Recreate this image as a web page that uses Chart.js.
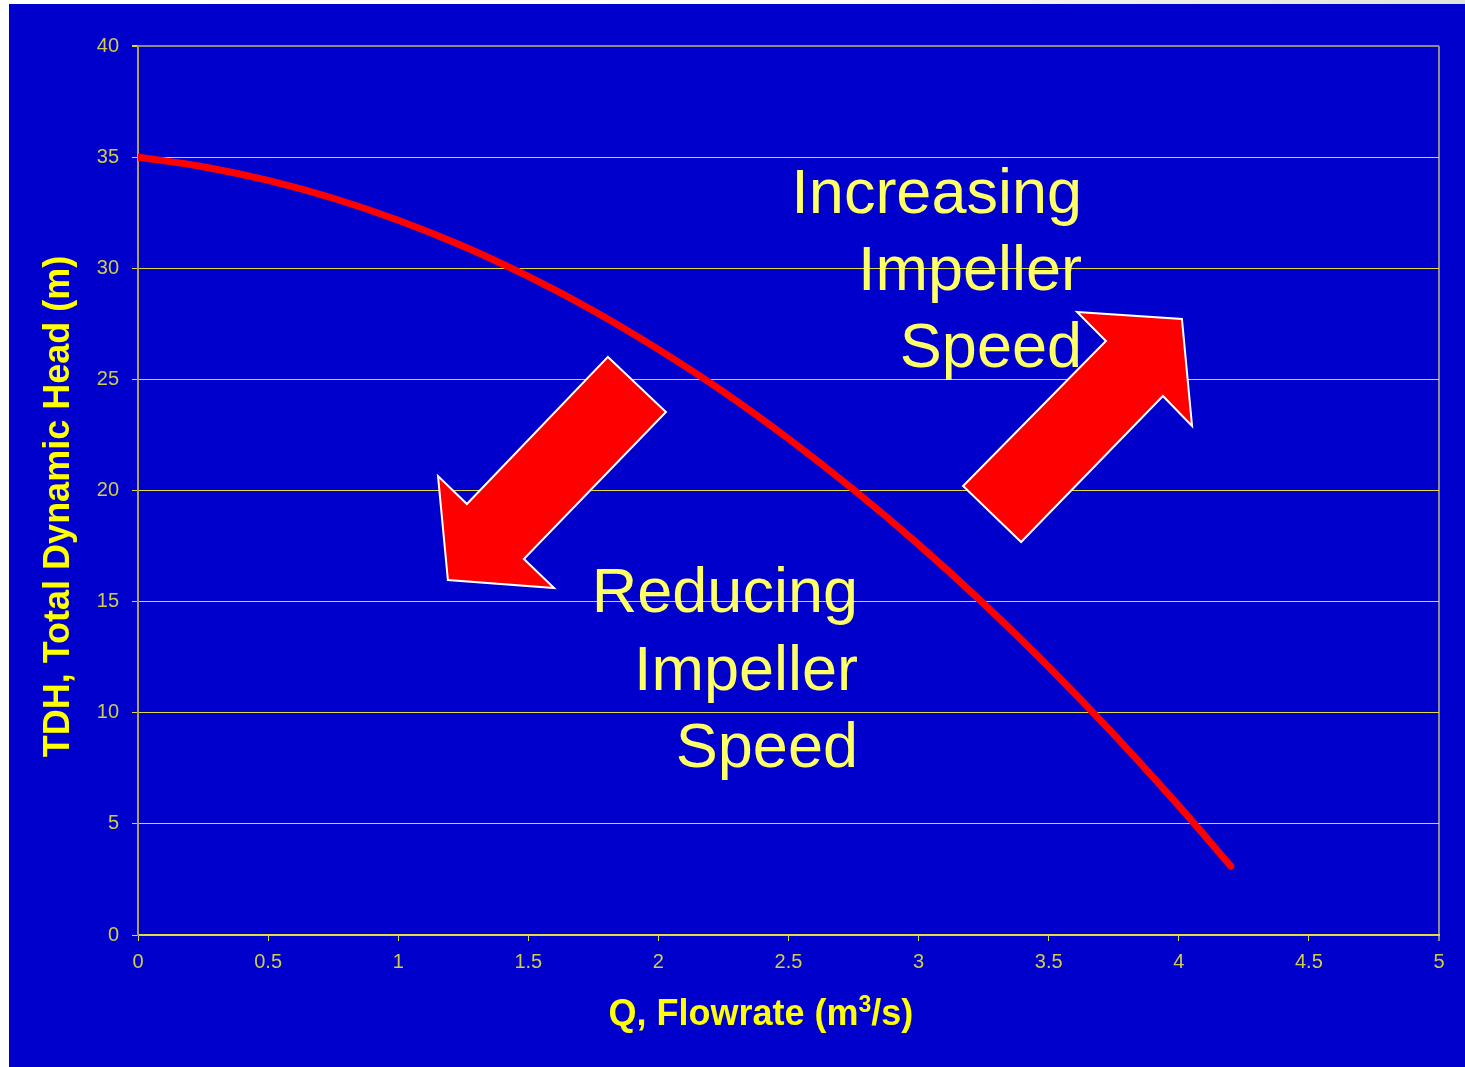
<!DOCTYPE html>
<html><head><meta charset="utf-8">
<script src="https://cdn.jsdelivr.net/npm/chart.js@4.4.1/dist/chart.umd.min.js"></script>
<style>
html,body{margin:0;padding:0;width:1465px;height:1067px;overflow:hidden;background:linear-gradient(to right,#ffffff 0%,#fbfbfd 55%,#dfe3da 100%);}
#wrap{position:absolute;left:9px;top:4px;width:1456px;height:1063px;background:#0000cc;}
</style></head><body>
<div id="wrap"><canvas id="c"></canvas></div>
<script>
// ---- data ----
const flowQ   = [0, 0.25, 0.5, 0.75, 1.0, 1.25, 1.5, 1.75, 2.0, 2.25, 2.5, 2.75, 3.0, 3.25, 3.5, 3.75, 4.0, 4.2];
const headTDH = [35, 34.57, 33.95, 33.15, 32.16, 30.99, 29.63, 28.09, 26.35, 24.44, 22.33, 20.04, 17.57, 14.91, 12.06, 9.03, 5.81, 3.10];
const xTickValues = [0, 0.5, 1, 1.5, 2, 2.5, 3, 3.5, 4, 4.5, 5];
const yTickValues = [0, 5, 10, 15, 20, 25, 30, 35, 40];
const xTitleParts = ['Q, Flowrate (m', '3', '/s)'];
const yTitle = 'TDH, Total Dynamic Head (m)';
const increasingLines = ['Increasing', 'Impeller', 'Speed'];
const reducingLines = ['Reducing', 'Impeller', 'Speed'];
// annotation arrows, vertices in data units (Q, TDH)
const arrowDown = [[1.806,26.01],[2.029,23.53],[1.483,16.92],[1.599,15.61],[1.191,15.97],[1.153,20.65],[1.264,19.39]];
const arrowUp   = [[3.609,28.03],[4.012,27.72],[4.051,22.90],[3.939,24.25],[3.394,17.68],[3.171,20.20],[3.720,26.73]];

const FONT = '"Liberation Sans", Arial, Helvetica, sans-serif';
const YEL = '#e0dc3c';

const overlay = {
  id: 'overlay',
  afterDatasetsDraw(chart) {
    const {ctx, scales: {x, y}} = chart;
    ctx.save();
    [arrowDown, arrowUp].forEach(poly => {
      ctx.beginPath();
      poly.forEach(([q, h], i) => {
        const px = x.getPixelForValue(q), py = y.getPixelForValue(h);
        if (i) ctx.lineTo(px, py); else ctx.moveTo(px, py);
      });
      ctx.closePath();
      ctx.fillStyle = '#ff0000';
      ctx.fill();
      ctx.lineWidth = 2;
      ctx.strokeStyle = '#ffffff';
      ctx.lineJoin = 'miter';
      ctx.stroke();
    });
    ctx.font = '63px ' + FONT;
    ctx.fillStyle = '#ffff66';
    ctx.textAlign = 'right';
    ctx.textBaseline = 'alphabetic';
    const incBase = [32.49, 29.02, 25.56];
    increasingLines.forEach((t, i) => ctx.fillText(t, x.getPixelForValue(3.628), y.getPixelForValue(incBase[i])));
    const redBase = [14.53, 11.02, 7.56];
    reducingLines.forEach((t, i) => ctx.fillText(t, x.getPixelForValue(2.767), y.getPixelForValue(redBase[i])));
    ctx.restore();
  },
  afterDraw(chart) {
    const {ctx, chartArea, scales: {x, y}} = chart;
    ctx.save();
    ctx.fillStyle = '#ffff00';
    ctx.textBaseline = 'middle';
    // y axis title
    ctx.save();
    ctx.translate(50.5, y.getPixelForValue(19.28));
    ctx.rotate(-Math.PI / 2);
    ctx.font = 'bold 36px ' + FONT;
    ctx.textAlign = 'center';
    ctx.fillText(yTitle, 0, 0);
    ctx.restore();
    // x axis title with superscript
    const big = 'bold 36px ' + FONT, small = 'bold 23px ' + FONT;
    ctx.font = big; const w1 = ctx.measureText(xTitleParts[0]).width, w3 = ctx.measureText(xTitleParts[2]).width;
    ctx.font = small; const w2 = ctx.measureText(xTitleParts[1]).width;
    const total = w1 + w2 + w3;
    let sx = x.getPixelForValue(2.394) - total / 2;
    const cy = chartArea.bottom + 80.5;
    ctx.textAlign = 'left';
    ctx.font = big; ctx.fillText(xTitleParts[0], sx, cy); sx += w1;
    ctx.font = small; ctx.fillText(xTitleParts[1], sx, cy - 10); sx += w2;
    ctx.font = big; ctx.fillText(xTitleParts[2], sx, cy);
    ctx.restore();
  }
};

new Chart(document.getElementById('c'), {
  type: 'scatter',
  data: {
    datasets: [{
      data: flowQ.map((q, i) => ({x: q, y: headTDH[i]})),
      showLine: true,
      borderColor: '#ff0000',
      borderWidth: 7,
      borderCapStyle: 'round',
      pointRadius: 0,
      tension: 0.4,
      cubicInterpolationMode: 'monotone'
    }]
  },
  options: {
    responsive: true,
    maintainAspectRatio: false,
    animation: false,
    layout: {padding: {left: 0, top: 42, right: 26, bottom: 0}},
    plugins: {legend: {display: false}, tooltip: {enabled: false}},
    scales: {
      x: {
        type: 'linear', min: 0, max: 5,
        afterBuildTicks: s => { s.ticks = xTickValues.map(v => ({value: v})); },
        afterFit: s => { s.height = 132; },
        ticks: {color: '#d2cc48', font: {family: FONT, size: 20}, padding: 9, maxRotation: 0, autoSkip: false,
                callback: v => String(v)},
        grid: {
          color: c => (c.tick && c.tick.value === 5) ? '#8c8c8c' : 'rgba(0,0,0,0)',
          lineWidth: c => (c.tick && c.tick.value === 5) ? 2 : 1,
          tickColor: c => (c.tick && c.tick.value === 5) ? '#8c8c8c' : YEL,
          tickLength: 6
        },
        border: {color: YEL, width: 2}
      },
      y: {
        type: 'linear', min: 0, max: 40,
        afterBuildTicks: s => { s.ticks = yTickValues.map(v => ({value: v})); },
        afterFit: s => { s.width = 129; },
        ticks: {color: '#d2cc48', font: {family: FONT, size: 20}, padding: 13, callback: v => String(v)},
        grid: {
          color: c => (c.tick && c.tick.value === 40) ? '#8c8c8c' : YEL,
          lineWidth: c => (c.tick && c.tick.value === 40) ? 2 : 1,
          tickColor: YEL,
          tickLength: 6
        },
        border: {color: '#a8a266', width: 2}
      }
    }
  },
  plugins: [overlay]
});
</script>
</body></html>
